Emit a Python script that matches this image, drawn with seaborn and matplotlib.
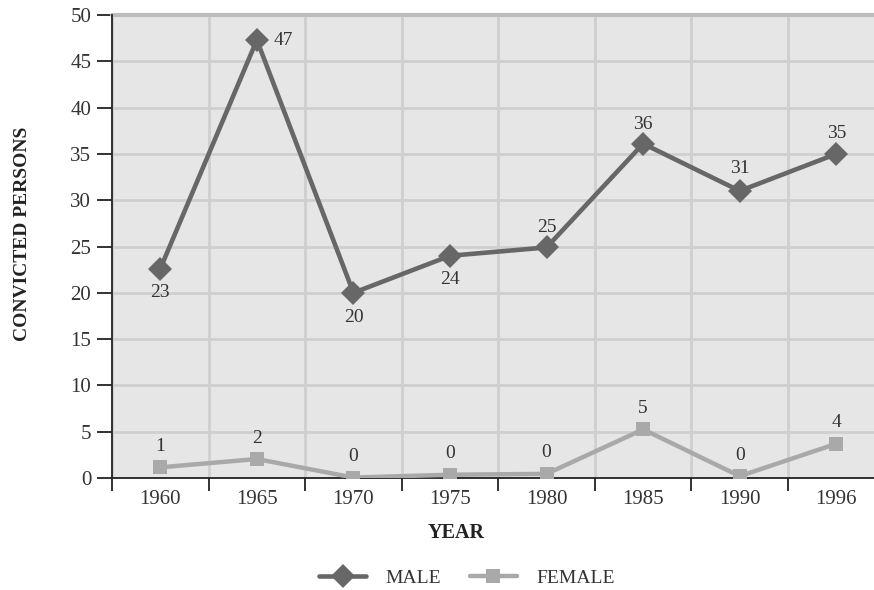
import matplotlib
matplotlib.use("Agg")
import matplotlib.pyplot as plt
import seaborn as sns
import pandas as pd
from matplotlib.lines import Line2D

years = ["1960", "1965", "1970", "1975", "1980", "1985", "1990", "1996"]
male = [22.6, 47.3, 20.0, 24.0, 24.9, 36.1, 31.0, 35.0]
female = [1.15, 2.05, 0.05, 0.35, 0.45, 5.25, 0.2, 3.7]
male_labels = ["23", "47", "20", "24", "25", "36", "31", "35"]
female_labels = ["1", "2", "0", "0", "0", "5", "0", "4"]
yticks = [0, 5, 10, 15, 20, 25, 30, 35, 40, 45, 50]

sns.set_theme(style="darkgrid")
plt.rcParams["font.family"] = ["Liberation Serif", "DejaVu Serif"]

male_c = "#676767"
female_c = "#a9a9a9"

df = pd.DataFrame({
    "pos": list(range(len(years))) * 2,
    "value": male + female,
    "sex": ["MALE"] * len(years) + ["FEMALE"] * len(years),
})

fig = plt.figure(figsize=(8.74, 5.9), dpi=100)
ax = fig.add_axes([112 / 874, 1 - 478 / 590, 762 / 874, 463 / 590])
ax.set_facecolor("#e6e6e6")

sns.lineplot(data=df[df.sex == "MALE"], x="pos", y="value", ax=ax, color=male_c,
             marker="D", markersize=12.5, markeredgewidth=0, linewidth=3.3, zorder=4)
sns.lineplot(data=df[df.sex == "FEMALE"], x="pos", y="value", ax=ax, color=female_c,
             marker="s", markersize=10.5, markeredgewidth=0, linewidth=3.2, zorder=3)

ax.set_xlim(-0.5, 7.39)
ax.set_ylim(0, 50)
ax.set_yticks(yticks)
ax.set_xticks(range(len(years)))
ax.set_xticklabels(years)
ax.set_xticks([i - 0.5 for i in range(len(years))], minor=True)

ax.grid(False)
ax.grid(True, which="minor", axis="x", color="#cfcfcf", linewidth=2.0)
ax.grid(True, which="major", axis="y", color="#cfcfcf", linewidth=2.0)
ax.set_axisbelow(True)

for s in ["top", "right"]:
    ax.spines[s].set_visible(False)
for s in ["left", "bottom"]:
    ax.spines[s].set_visible(True)
    ax.spines[s].set_color("#222222")
    ax.spines[s].set_linewidth(1.3)
ax.axhline(50, color="#bdbdbd", linewidth=3, zorder=2, clip_on=False)

ax.tick_params(axis="y", which="major", length=11, width=1.3, color="#222222",
               labelsize=15, labelcolor="#333333", pad=4, left=True)
ax.tick_params(axis="x", which="major", length=0, labelsize=15,
               labelcolor="#333333", pad=9)
ax.tick_params(axis="x", which="minor", length=9, width=1.3, color="#222222",
               bottom=True)
ax.set_xlabel("")
ax.set_ylabel("")

# data labels
male_off = [(0, -17), (12, 0), (0, -18), (0, -17), (0, 14), (0, 14), (0, 16), (0, 15)]
for i, (v, t) in enumerate(zip(male, male_labels)):
    dx, dy = male_off[i]
    ax.annotate(t, (i, v), xytext=(dx, dy), textcoords="offset points",
                ha="left" if dx > 0 else "center", va="center",
                fontsize=14, color="#333333")
for i, (v, t) in enumerate(zip(female, female_labels)):
    ax.annotate(t, (i, v), xytext=(0, 15), textcoords="offset points",
                ha="center", va="center", fontsize=14, color="#333333")

fig.text(23 / 874, 1 - 234 / 590, "CONVICTED PERSONS", rotation=90, ha="center",
         va="center", fontsize=14, fontweight="bold", color="#222222")
fig.text(456 / 874, 1 - 533 / 590, "YEAR", ha="center", va="center",
         fontsize=14.5, fontweight="bold", color="#222222")

handles = [
    Line2D([], [], color=male_c, marker="D", markersize=12.5, markeredgewidth=0, linewidth=3.3),
    Line2D([], [], color=female_c, marker="s", markersize=10.5, markeredgewidth=0, linewidth=3.2),
]
fig.legend(handles, ["MALE", "FEMALE"], loc="center", bbox_to_anchor=(467 / 874, 1 - 578 / 590),
           ncol=2, frameon=False, fontsize=14, handlelength=2.4, columnspacing=1.5,
           handletextpad=1.0, labelcolor="#333333")

fig.savefig("out.png", dpi=100)
